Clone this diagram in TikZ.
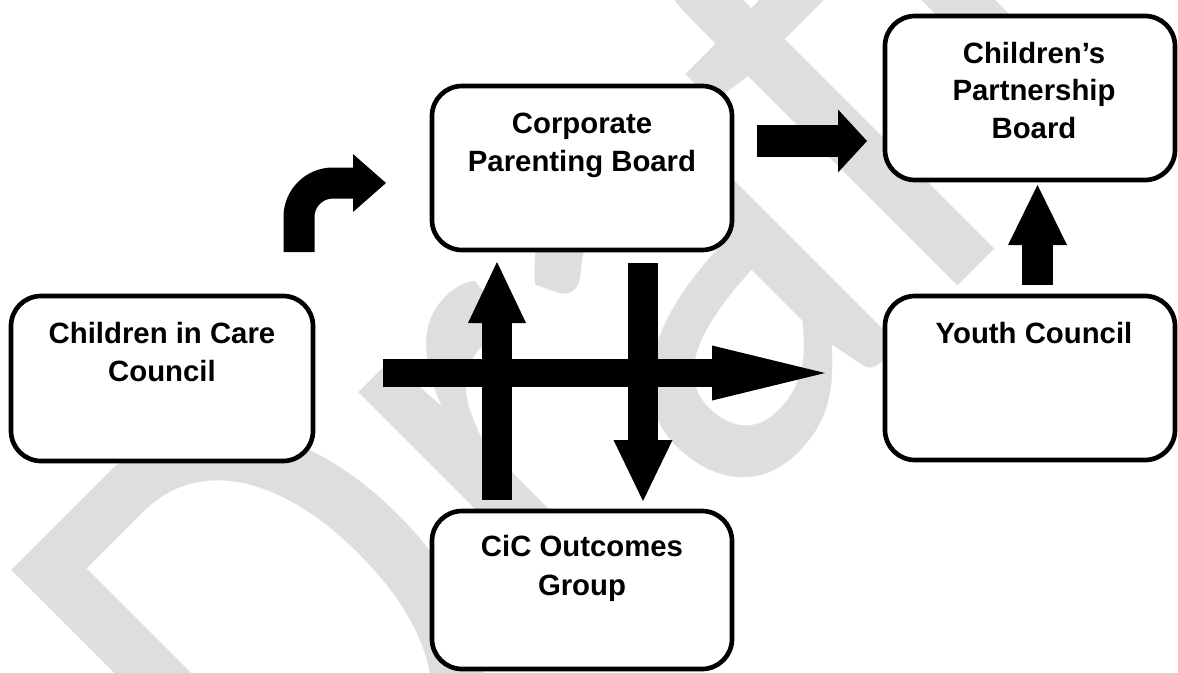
\documentclass[tikz,border=0pt]{standalone}
\usepackage{fontspec}
\setmainfont{Liberation Sans}
\newfontfamily\wmfont{Carlito}
\usetikzlibrary{arrows.meta}
\definecolor{wmgray}{RGB}{222,222,222}
\begin{document}
\begin{tikzpicture}[x=0.75pt,y=-0.75pt,
  box/.style={draw=black, line width=3.5pt, rounded corners=22.5pt, fill=white, inner sep=0pt},
  lbl/.style={anchor=base, inner sep=0pt, font=\fontsize{22pt}{29pt}\selectfont\bfseries},
  blockarrow/.style n args={3}{draw=black, line width=#1,
    -{Triangle[length=#2, width=#3, line width=0pt]}},
]
\useasboundingbox (0,0) rectangle (1178,672);
\clip (0,0) rectangle (1178,672);
\fill[white] (0,0) rectangle (1178,672);

% background watermark
\node[anchor=base west, rotate=45, inner sep=0pt, text=wmgray,
      font=\wmfont\fontsize{456pt}{500pt}\selectfont] (wm) at (313,931)
      {\scalebox{1}[1.2]{Draft}};

% boxes
\node[box, minimum width=226.5pt, minimum height=123.75pt] (ccc) at (162,378.5) {};
\node[box, minimum width=225pt, minimum height=123pt] (corp) at (582,168) {};
\node[box, minimum width=217.5pt, minimum height=123pt] (cpb) at (1030,98) {};
\node[box, minimum width=217.5pt, minimum height=123pt] (yc) at (1030,378) {};
\node[box, minimum width=225pt, minimum height=118.5pt] (cog) at (582,590) {};

% labels
\node[lbl] (ccc1) at (162,343) {Children in Care};
\node[lbl] (ccc2) at (162,381.5) {Council};
\node[lbl] (corp1) at (582,133) {Corporate};
\node[lbl] (corp2) at (582,171.5) {Parenting Board};
\node[lbl] (cpb1) at (1034,63) {Children’s};
\node[lbl] (cpb2) at (1034,100.5) {Partnership};
\node[lbl] (cpb3) at (1034,138.5) {Board};
\node[lbl] (yc1) at (1034,343) {Youth Council};
\node[lbl] (cog1) at (582,556.5) {CiC Outcomes};
\node[lbl] (cog2) at (582,595) {Group};

% arrow end points
\coordinate (bendS) at (299,252);
\coordinate (bendE) at (386,183);
\coordinate (toCpbS) at (757,141);
\coordinate (toCpbE) at (867,141);
\coordinate (ycUpS) at (1037.5,285);
\coordinate (ycUpE) at (1037.5,185);
\coordinate (acrossS) at (383,373);
\coordinate (acrossE) at (825,373);
\coordinate (upS) at (497,500);
\coordinate (upE) at (497,262);
\coordinate (downS) at (643,263);
\coordinate (downE) at (643,501);

% block arrows
\draw[blockarrow={23.25pt}{24.75pt}{43.5pt}, rounded corners=25.5pt] (bendS) |- (bendE);
\draw[blockarrow={24pt}{21.75pt}{47.25pt}] (toCpbS) -- (toCpbE);
\draw[blockarrow={23.25pt}{45pt}{44.25pt}] (ycUpS) -- (ycUpE);
\draw[blockarrow={22.5pt}{45.75pt}{43.5pt}] (upS) -- (upE);
\draw[blockarrow={22.5pt}{45.75pt}{44.25pt}] (downS) -- (downE);
\draw[blockarrow={21pt}{84.75pt}{41.25pt}] (acrossS) -- (acrossE);
\end{tikzpicture}
\end{document}
